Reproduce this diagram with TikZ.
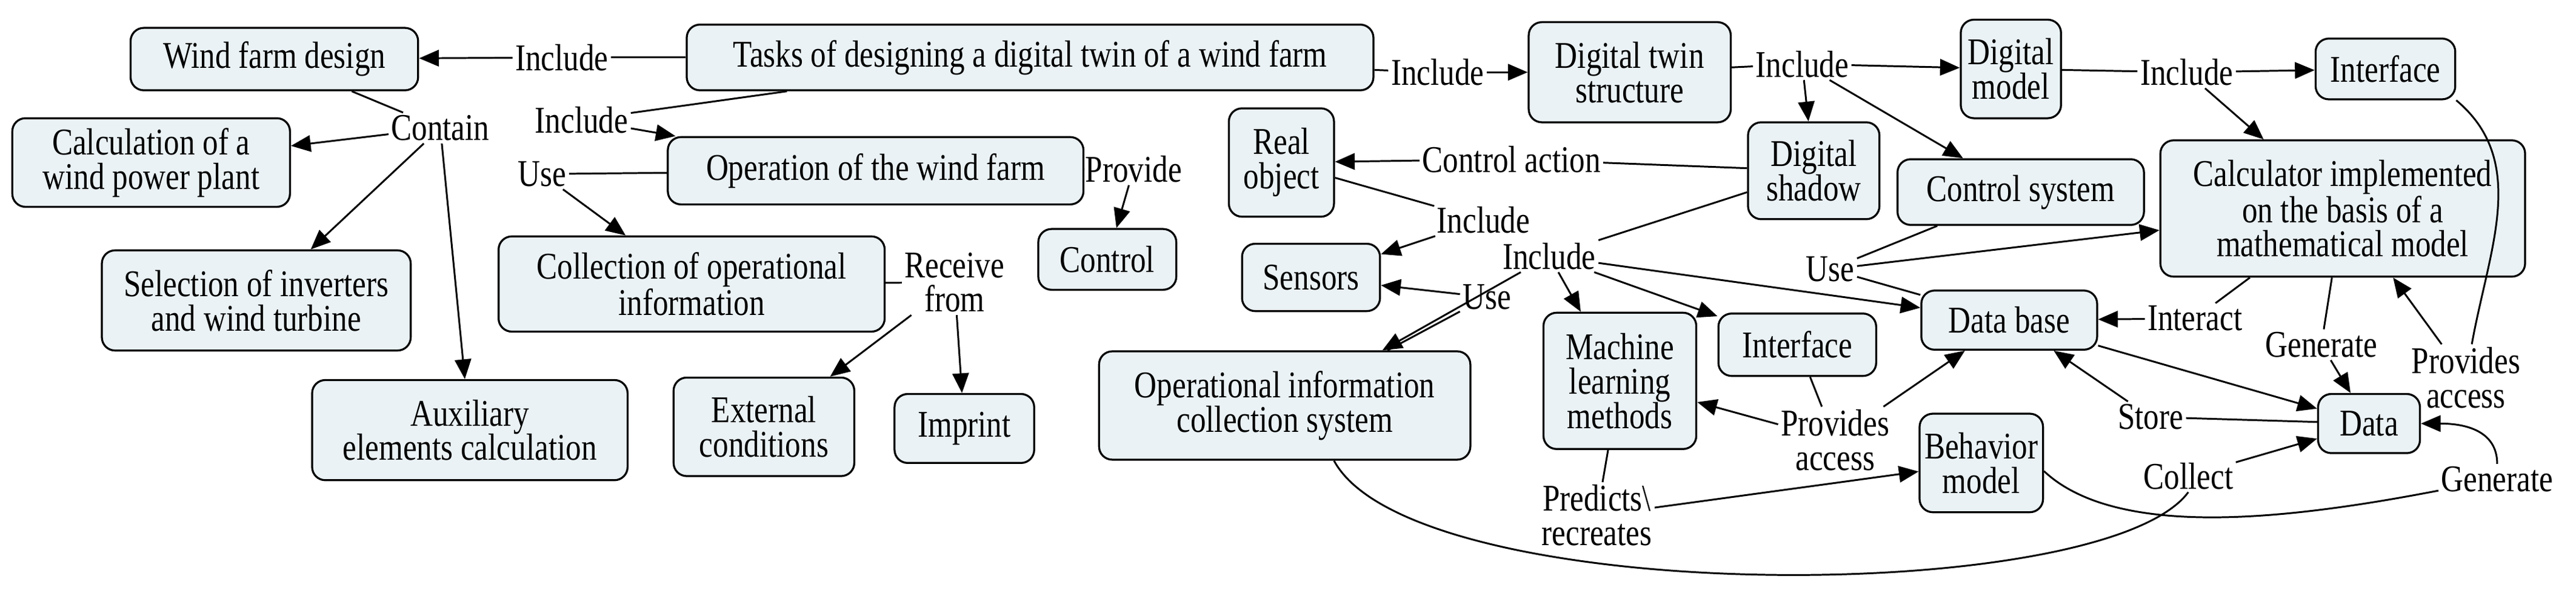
\documentclass[tikz,border=0pt]{standalone}
\usepackage{fontspec}
\setmainfont{Liberation Serif}[FakeStretch=0.82]
\usetikzlibrary{arrows.meta}
\definecolor{boxfill}{RGB}{234,242,245}
\begin{document}
\begin{tikzpicture}[x=1pt,y=-1pt,
  box/.style={draw,line width=1.2pt,rounded corners=8pt,fill=boxfill,align=center,inner sep=3pt,font=\fontsize{23}{21}\selectfont},
  lab/.style={inner sep=1.5pt,align=center,font=\fontsize{23}{21}\selectfont},
  ln/.style={line width=1.1pt},
  ar/.style={line width=1.1pt,-{Triangle[length=12pt,width=10pt]}}]
\useasboundingbox (0,0) rectangle (1568,363);
% boxes
\node[box,minimum width=175,minimum height=38] (wfd) at (167,36) {Wind farm design};
\node[box,minimum width=418,minimum height=40] (tasks) at (627,35) {Tasks of designing a digital twin of a wind farm};
\node[box,minimum width=169,minimum height=54] (calc) at (92,99) {Calculation of a\\wind power plant};
\node[box,minimum width=188,minimum height=61] (sel) at (156,183) {Selection of inverters\\and wind turbine};
\node[box,minimum width=192,minimum height=61] (aux) at (286,262) {Auxiliary\\elements calculation};
\node[box,minimum width=253,minimum height=41] (op) at (533,104) {Operation of the wind farm};
\node[box,minimum width=235,minimum height=58] (coll) at (421,173) {Collection of operational\\information};
\node[box,minimum width=84,minimum height=37] (ctrl) at (674,158) {Control};
\node[box,minimum width=110,minimum height=60] (ext) at (465,260) {External\\conditions};
\node[box,minimum width=85,minimum height=42] (imp) at (587,261) {Imprint};
\node[box,minimum width=123,minimum height=61] (dts) at (992,44) {Digital twin\\structure};
\node[box,minimum width=61,minimum height=60] (dm) at (1224,42) {Digital\\model};
\node[box,minimum width=85,minimum height=37] (if1) at (1452,42) {Interface};
\node[box,minimum width=64,minimum height=66] (real) at (780,99) {Real\\object};
\node[box,minimum width=84,minimum height=41] (sens) at (798,169) {Sensors};
\node[box,minimum width=80,minimum height=59] (dsh) at (1104,104) {Digital\\shadow};
\node[box,minimum width=150,minimum height=40] (cs) at (1230,117) {Control system};
\node[box,minimum width=222,minimum height=83] (calcm) at (1426,127) {Calculator implemented\\on the basis of a\\mathematical model};
\node[box,minimum width=107,minimum height=36] (db) at (1223,195) {Data base};
\node[box,minimum width=62,minimum height=36] (data) at (1442,258) {Data};
\node[box,minimum width=226,minimum height=66] (ocs) at (782,247) {Operational information\\collection system};
\node[box,minimum width=93,minimum height=83] (ml) at (986,232) {Machine\\learning\\methods};
\node[box,minimum width=96,minimum height=38] (if2) at (1094,210) {Interface};
\node[box,minimum width=72,minimum height=60] (bm) at (1206,282) {Behavior\\model};
% labels
\node[lab] (l1) at (342,35) {Include};
\node[lab] (l2) at (268,78) {Contain};
\node[lab] (l3) at (354,73) {Include};
\node[lab] (l4) at (330,106) {Use};
\node[lab] (l5) at (690,103) {Provide};
\node[lab] (l6) at (581,172) {Receive\\from};
\node[lab] (l7) at (875,44) {Include};
\node[lab] (l8) at (1097,39) {Include};
\node[lab] (l9) at (1331,44) {Include};
\node[lab] (l10) at (920,97) {Control action};
\node[lab] (l11) at (903,134) {Include};
\node[lab] (l12) at (943,156) {Include};
\node[lab] (l13) at (905,181) {Use};
\node[lab] (l14) at (1114,164) {Use};
\node[lab] (l15) at (1336,194) {Interact};
\node[lab] (l16) at (1413,210) {Generate};
\node[lab] (l17) at (1501,230) {Provides\\access};
\node[lab] (l18) at (1309,254) {Store};
\node[lab] (l19) at (1117,268) {Provides\\access};
\node[lab] (l20) at (1332,290) {Collect};
\node[lab] (l21) at (1520,292) {Generate};
\node[lab] (l22) at (972,314) {Predicts\textbackslash\\recreates};
% connectors
\draw[ln] (tasks) -- (l1); \draw[ar] (l1) -- (wfd);
\draw[ln] (wfd) -- (l2); \draw[ar] (l2) -- (calc); \draw[ar] (l2) -- (sel); \draw[ar] (l2) -- (aux);
\draw[ln] (tasks) -- (l3); \draw[ar] (l3) -- (op);
\draw[ln] (op) -- (l4); \draw[ar] (l4) -- (coll);
\draw[ln] (op) -- (l5); \draw[ar] (l5) -- (ctrl);
\draw[ln] (coll) -- (l6); \draw[ar] (l6) -- (ext); \draw[ar] (l6) -- (imp);
\draw[ln] (tasks) -- (l7); \draw[ar] (l7) -- (dts);
\draw[ln] (dts) -- (l8); \draw[ar] (l8) -- (dm); \draw[ar] (l8) -- (dsh); \draw[ar] (l8) -- (cs);
\draw[ln] (dm) -- (l9); \draw[ar] (l9) -- (if1); \draw[ar] (l9) -- (calcm);
\draw[ln] (dsh) -- (l10); \draw[ar] (l10) -- (real);
\draw[ln] (real) -- (l11); \draw[ar] (l11) -- (sens);
\draw[ln] (dsh) -- (l12); \draw[ar] (l12) -- (ocs); \draw[ar] (l12) -- (ml); \draw[ar] (l12) -- (if2); \draw[ar] (l12) -- (db);
\draw[ln] (ocs) -- (l13); \draw[ar] (l13) -- (sens);
\draw[ln] (cs) -- (l14); \draw[ar] (l14) -- (calcm); \draw[ln] (l14) -- (db);
\draw[ln] (calcm) -- (l15); \draw[ar] (l15) -- (db);
\draw[ln] (calcm) -- (l16); \draw[ar] (l16) -- (data);
\draw[ln] (if1.south east) to[out=-40,in=80] (l17); \draw[ar] (l17) -- (calcm);
\draw[ar] (db) -- (data);
\draw[ln] (data) -- (l18); \draw[ar] (l18) -- (db);
\draw[ln] (if2) -- (l19); \draw[ar] (l19) -- (ml); \draw[ar] (l19) -- (db);
\draw[ln] (ml) -- (l22); \draw[ar] (l22) -- (bm);
\path (ocs.south) ++(30,0) coordinate (oc1);
\draw[ln] (oc1) .. controls (860,370) and (1280,370) .. (l20.south);
\draw[ar] (l20) -- (data);
\path (bm.east) ++(0,5) coordinate (bm1);
\draw[ln] (bm1) .. controls (1290,330) and (1400,315) .. (l21);
\draw[ar] (l21.north) .. controls (1520,262) and (1500,258) .. (data.east);
\end{tikzpicture}
\end{document}
